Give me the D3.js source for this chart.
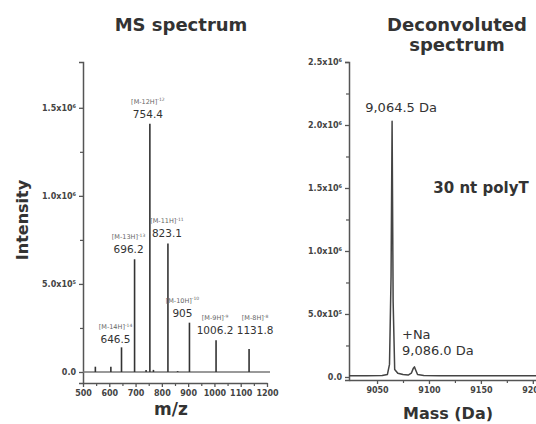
<!DOCTYPE html>
<html>
<head>
<meta charset="utf-8">
<script src="https://cdn.jsdelivr.net/npm/d3@7"></script>
<style>
  body { margin: 0; background: #fff; }
  svg { font-family: "DejaVu Sans", sans-serif; }
</style>
</head>
<body>
<div id="chart"></div>
<script>
// ---- MS spectrum (stick peaks) ----
const msMz = [547, 606, 646.5, 696.2, 740, 754.4, 768, 823.1, 860, 905, 1006.2, 1131.8];
const msIntensity = [0.03e6, 0.03e6, 0.14e6, 0.64e6, 0.012e6, 1.41e6, 0.012e6, 0.73e6, 0.005e6, 0.28e6, 0.18e6, 0.13e6];

// labelled charge states
const ionMz = [646.5, 696.2, 754.4, 823.1, 905, 1006.2, 1131.8];
const ionIntensity = [0.14e6, 0.64e6, 1.41e6, 0.73e6, 0.28e6, 0.18e6, 0.13e6];
const ionNames = ["[M-14H]", "[M-13H]", "[M-12H]", "[M-11H]", "[M-10H]", "[M-9H]", "[M-8H]"];
const ionCharges = ["-14", "-13", "-12", "-11", "-10", "-9", "-8"];
const ionValues = ["646.5", "696.2", "754.4", "823.1", "905", "1006.2", "1131.8"];

const msXTicks = [500, 600, 700, 800, 900, 1000, 1100, 1200];
const msXMinor = [550, 650, 750, 850, 950, 1050, 1150];
const msYTicks = [0, 0.5e6, 1.0e6, 1.5e6];
const msYMinor = [0.25e6, 0.75e6, 1.25e6];

// ---- Deconvoluted spectrum (profile) ----
const decMass = [9023, 9040, 9055, 9060, 9062, 9063.5, 9064.5, 9065.5, 9067, 9070, 9075, 9080, 9083, 9085, 9086, 9087, 9089, 9095, 9110, 9150, 9205];
const decIntensity = [0.01e6, 0.01e6, 0.012e6, 0.02e6, 0.1e6, 0.8e6, 2.03e6, 0.6e6, 0.06e6, 0.03e6, 0.02e6, 0.015e6, 0.03e6, 0.07e6, 0.08e6, 0.06e6, 0.02e6, 0.012e6, 0.01e6, 0.01e6, 0.01e6];

const decXTicks = [9050, 9100, 9150, 9200];
const decXMinor = [9075, 9125, 9175];
const decYTicks = [0, 0.5e6, 1.0e6, 1.5e6, 2.0e6, 2.5e6];
const decYMinor = [0.25e6, 0.75e6, 1.25e6, 1.75e6, 2.25e6];

// label nudges (layout only): [dx, dy] for the value text of each ion
const ionShift = [[-6, 2], [-6, 0], [-2, 0], [-1, 0], [-7, 0], [-1, 0], [6, -9]];

const width = 536, height = 424;
const ink = "#333", axisInk = "#555";

const svg = d3.select("#chart").append("svg")
  .attr("width", width)
  .attr("height", height)
  .attr("viewBox", [0, 0, width, height]);

// "1.5x10^6" style labels
function sciLabel(sel) {
  sel.each(function (d) {
    const t = d3.select(this).text("");
    if (d === 0) { t.text("0.0"); return; }
    const e = Math.floor(Math.log10(d));
    const m = (d / Math.pow(10, e)).toFixed(1);
    t.append("tspan").text(m + "x10");
    t.append("tspan").attr("dy", -3).attr("font-size", "5px").text(e);
  });
}

function styleAxis(g) {
  g.select(".domain").attr("stroke", axisInk).attr("stroke-width", 1.5);
  g.selectAll(".tick line").attr("stroke", axisInk).attr("stroke-width", 1.3);
  g.selectAll(".tick text")
    .attr("fill", "#444")
    .attr("font-size", "8px")
    .attr("font-weight", "bold")
    .attr("font-family", "DejaVu Sans");
}

function minor(g) {
  g.select(".domain").remove();
  g.selectAll(".tick line").attr("stroke", axisInk).attr("stroke-width", 1.2);
}

// ================= left panel =================
const x1 = d3.scaleLinear().domain([500, 1200]).range([83, 267]);
const y1 = d3.scaleLinear().domain([-0.0625e6, 1.76e6]).range([383, 62]);

svg.append("g")
  .attr("transform", "translate(83,0)")
  .call(d3.axisLeft(y1).tickValues(msYTicks).tickSize(4).tickSizeOuter(4).tickPadding(3))
  .call(styleAxis)
  .call(g => g.selectAll(".tick text").call(sciLabel));
svg.append("g")
  .attr("transform", "translate(83,0)")
  .call(d3.axisLeft(y1).tickValues(msYMinor).tickSize(3).tickFormat(""))
  .call(minor);

svg.append("g")
  .attr("transform", "translate(0,383)")
  .call(d3.axisBottom(x1).tickValues(msXTicks).tickFormat(d3.format("d"))
    .tickSize(4).tickSizeOuter(0).tickPadding(3))
  .call(styleAxis);
svg.append("g")
  .attr("transform", "translate(0,383)")
  .call(d3.axisBottom(x1).tickValues(msXMinor).tickSize(3).tickFormat(""))
  .call(minor);

// baseline of the spectrum
svg.append("line")
  .attr("x1", x1(500)).attr("x2", x1(1200) + 3)
  .attr("y1", y1(0)).attr("y2", y1(0))
  .attr("stroke", "#777").attr("stroke-width", 1.5);

// sticks
svg.append("g").selectAll("line")
  .data(msMz)
  .join("line")
  .attr("x1", d => x1(d)).attr("x2", d => x1(d))
  .attr("y1", y1(0))
  .attr("y2", (d, i) => y1(msIntensity[i]))
  .attr("stroke", "#333")
  .attr("stroke-width", 1.6);

// peak labels
const ion = svg.append("g").selectAll("g")
  .data(ionMz)
  .join("g")
  .attr("transform", (d, i) => `translate(${x1(d) + ionShift[i][0]},${y1(ionIntensity[i]) - 6 + ionShift[i][1]})`);

ion.append("text")
  .attr("text-anchor", "middle")
  .attr("font-size", "10.5px")
  .attr("fill", ink)
  .text((d, i) => ionValues[i]);

const ionTop = ion.append("text")
  .attr("text-anchor", "middle")
  .attr("y", -14)
  .attr("font-size", "6.5px")
  .attr("fill", "#666");
ionTop.append("tspan").text((d, i) => ionNames[i]);
ionTop.append("tspan").attr("dy", -2.5).attr("font-size", "4.5px").text((d, i) => ionCharges[i]);

// titles and axis labels
svg.append("text")
  .attr("x", 181).attr("y", 31)
  .attr("text-anchor", "middle")
  .attr("font-size", "18px").attr("font-weight", "bold")
  .attr("fill", ink)
  .text("MS spectrum");

svg.append("text")
  .attr("transform", "translate(28,220) rotate(-90)")
  .attr("text-anchor", "middle")
  .attr("font-size", "16px").attr("font-weight", "bold")
  .attr("fill", ink)
  .text("Intensity");

svg.append("text")
  .attr("x", 171).attr("y", 415)
  .attr("text-anchor", "middle")
  .attr("font-size", "17px").attr("font-weight", "bold")
  .attr("fill", ink)
  .text("m/z");

// ================= right panel =================
const x2 = d3.scaleLinear().domain([9023, 9205]).range([349, 538]);
const y2 = d3.scaleLinear().domain([-0.024e6, 2.5e6]).range([380, 62]);

svg.append("g")
  .attr("transform", "translate(349,0)")
  .call(d3.axisLeft(y2).tickValues(decYTicks).tickSize(4).tickSizeOuter(4).tickPadding(3))
  .call(styleAxis)
  .call(g => g.selectAll(".tick text").call(sciLabel));
svg.append("g")
  .attr("transform", "translate(349,0)")
  .call(d3.axisLeft(y2).tickValues(decYMinor).tickSize(3).tickFormat(""))
  .call(minor);

svg.append("g")
  .attr("transform", "translate(0,380)")
  .call(d3.axisBottom(x2).tickValues(decXTicks).tickFormat(d3.format("d"))
    .tickSize(4).tickSizeOuter(0).tickPadding(3))
  .call(styleAxis);
svg.append("g")
  .attr("transform", "translate(0,380)")
  .call(d3.axisBottom(x2).tickValues(decXMinor).tickSize(3).tickFormat(""))
  .call(minor);

const line = d3.line()
  .x(d => x2(d))
  .y((d, i) => y2(decIntensity[i]));

svg.append("path")
  .datum(decMass)
  .attr("d", line)
  .attr("fill", "none")
  .attr("stroke", "#444")
  .attr("stroke-width", 1.5)
  .attr("stroke-linejoin", "round");

svg.append("text")
  .attr("x", x2(9064.5) + 9).attr("y", y2(2.03e6) - 9)
  .attr("text-anchor", "middle")
  .attr("font-size", "13px")
  .attr("fill", ink)
  .text("9,064.5 Da");

svg.append("text")
  .attr("x", 402).attr("y", 339)
  .attr("font-size", "13px")
  .attr("fill", ink)
  .text("+Na");
svg.append("text")
  .attr("x", 402).attr("y", 355)
  .attr("font-size", "13px")
  .attr("fill", ink)
  .text("9,086.0 Da");

svg.append("text")
  .attr("x", 481).attr("y", 193)
  .attr("text-anchor", "middle")
  .attr("font-size", "15px").attr("font-weight", "bold")
  .attr("fill", ink)
  .text("30 nt polyT");

svg.append("text")
  .attr("x", 457).attr("y", 31)
  .attr("text-anchor", "middle")
  .attr("font-size", "18px").attr("font-weight", "bold")
  .attr("fill", ink)
  .text("Deconvoluted");
svg.append("text")
  .attr("x", 457).attr("y", 51)
  .attr("text-anchor", "middle")
  .attr("font-size", "18px").attr("font-weight", "bold")
  .attr("fill", ink)
  .text("spectrum");

svg.append("text")
  .attr("x", 448).attr("y", 419)
  .attr("text-anchor", "middle")
  .attr("font-size", "16px").attr("font-weight", "bold")
  .attr("fill", ink)
  .text("Mass (Da)");
</script>
</body>
</html>
